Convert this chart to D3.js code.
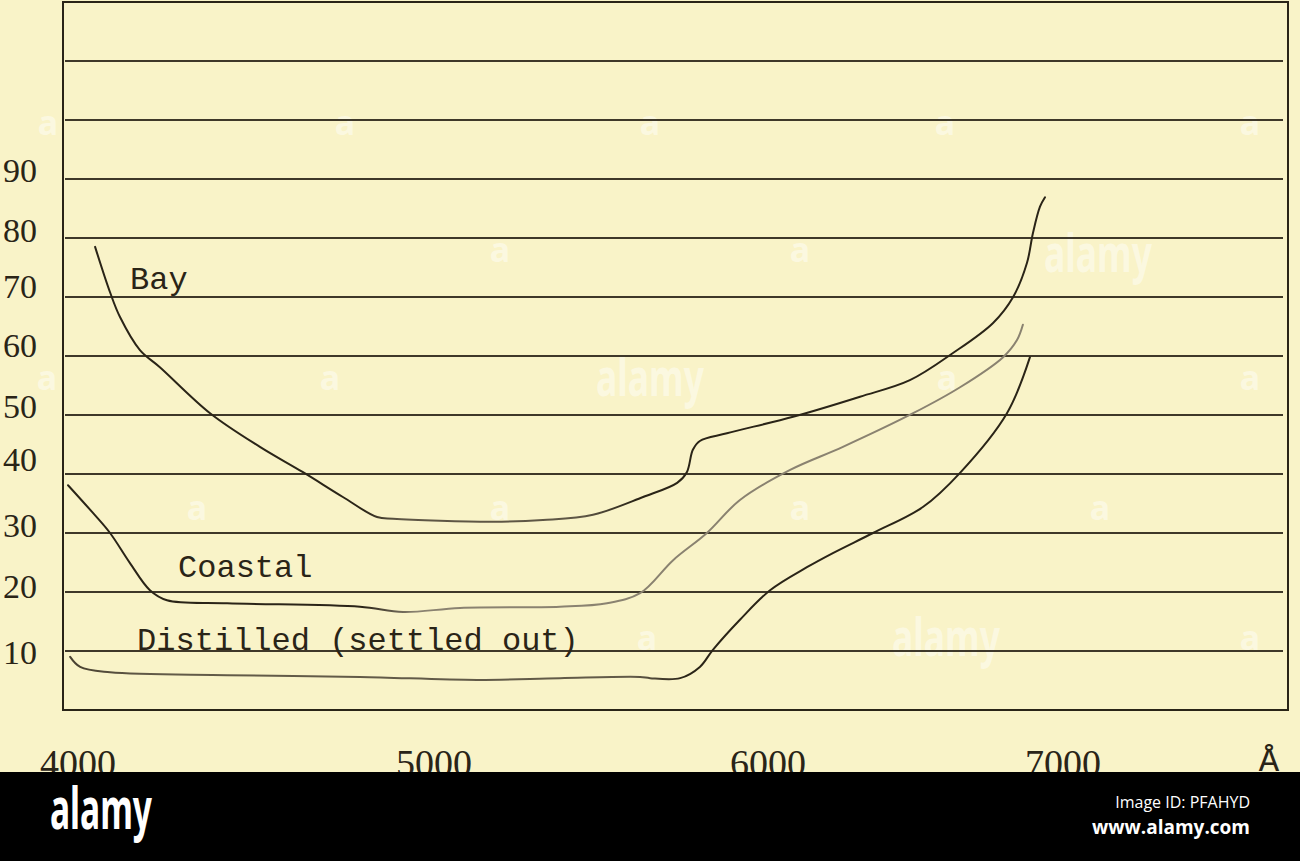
<!DOCTYPE html>
<html>
<head>
<meta charset="utf-8">
<script src="https://cdn.jsdelivr.net/npm/d3@7"></script>
<style>
  html, body { margin: 0; padding: 0; background: #000; }
  svg { display: block; }
</style>
</head>
<body>
<div id="chart"></div>
<script>
// ---------------- DATA ----------------
const wavelengthTicks = [4000, 5000, 6000, 7000];
const gridValues = [10, 20, 30, 40, 50, 60, 70, 80, 90, 100, 110];
const yTickLabels = ["90", "80", "70", "60", "50", "40", "30", "20", "10"];
const yTickLabelAt = [91.4, 81.2, 71.7, 61.7, 51.5, 42.4, 31.2, 21.0, 9.7];
const unitLabel = "Å";

const bayWavelength = [4048, 4090, 4118, 4174, 4230, 4371, 4511, 4632, 4744, 4840, 4885, 5177, 5326, 5476, 5626, 5728, 5757, 5775, 5796, 5877, 6085, 6312, 6481, 6627, 6763, 6831, 6878, 6898, 6922, 6939];
const bayValue      = [78.5, 70.8, 66.6, 61.0, 58.1, 50.3, 44.6, 40.3, 36.1, 32.7, 32.4, 31.9, 32.2, 33.1, 36.1, 38.5, 40.3, 44.1, 45.6, 46.9, 49.7, 53.1, 55.9, 60.5, 65.6, 70.0, 75.8, 80.8, 85.3, 86.9];

const coastalWavelength = [3972, 4042, 4090, 4146, 4202, 4250, 4419, 4792, 4913, 5078, 5377, 5518, 5617, 5716, 5817, 5916, 6075, 6254, 6492, 6651, 6797, 6844, 6864];
const coastalValue      = [38.1, 33.4, 30.0, 24.9, 20.3, 18.6, 18.1, 17.5, 16.6, 17.3, 17.5, 18.1, 19.8, 25.4, 30.0, 35.6, 40.7, 44.6, 50.3, 54.7, 59.8, 62.7, 65.3];

const distilledWavelength = [3978, 4006, 4090, 4419, 4792, 5129, 5377, 5617, 5647, 5737, 5796, 5835, 5916, 6007, 6132, 6220, 6356, 6525, 6651, 6810, 6888];
const distilledValue      = [9.0, 7.3, 6.4, 5.9, 5.6, 5.1, 5.4, 5.6, 5.4, 5.4, 7.3, 10.2, 15.3, 20.3, 24.2, 26.6, 30.0, 34.4, 40.2, 50.3, 59.8];

const seriesNames = ["Bay", "Coastal", "Distilled (settled out)"];
const seriesLabelWavelength = [4146, 4281, 4166];
const seriesLabelValue = [71.4, 22.5, 10.2];

// ---------------- LAYOUT / STYLE ----------------
const W = 1300, H = 861;
const box = { left: 63, right: 1288, top: 2, bottom: 710 };
const bandTop = 772;
const ink = "#2a2417";
const paper = "#f9f3c8";

const svg = d3.select("#chart").append("svg")
  .attr("width", W).attr("height", H)
  .attr("viewBox", `0 0 ${W} ${H}`);

// x axis of the original is slightly non-linear (prism spectrum) -> piecewise scale
const x = d3.scaleLinear()
  .domain(wavelengthTicks)
  .range([78, 434, 768, 1063]);
const y = d3.scaleLinear().domain([0, 120]).range([box.bottom, box.top]);

svg.append("rect").attr("x", 0).attr("y", 0).attr("width", W).attr("height", bandTop).attr("fill", paper);

// gradients for the uneven ink of the scanned curves
const defs = svg.append("defs");
function grad(id, stops) {
  const g = defs.append("linearGradient").attr("id", id)
    .attr("gradientUnits", "userSpaceOnUse")
    .attr("x1", 0).attr("x2", W).attr("y1", 0).attr("y2", 0);
  stops.forEach(s => g.append("stop").attr("offset", x(s[0]) / W).attr("stop-color", s[1]));
}
grad("gBay", [[4800, ink], [4900, "#5e5645"], [5450, "#5e5645"], [5600, ink]]);
grad("gCoastal", [[4800, ink], [4950, "#8a8270"], [7000, "#8a8270"]]);
grad("gDistilled", [[4000, "#4a4232"], [4200, "#625a48"], [5600, "#625a48"], [5750, ink]]);

// faint watermark of the source scan (drawn under the ink)
const wmA = [[48,125],[345,125],[650,125],[945,125],[1250,125],[500,252],[800,252],[47,380],[330,380],[947,380],[1250,380],[197,510],[500,510],[800,510],[1100,510],[647,640],[1250,640]];
const wmAlamy = [[1098,258],[650,382],[946,642]];
const wm = svg.append("g").attr("fill", "#ffffff").attr("fill-opacity", 0.45)
  .attr("font-family", "'Noto Sans', sans-serif").attr("font-weight", 700).attr("text-anchor", "middle");
wm.selectAll("text.a").data(wmA).join("text").attr("class", "a")
  .attr("x", d => d[0]).attr("y", d => d[1] + 10).attr("font-size", 34).text("a");
wm.selectAll("text.al").data(wmAlamy).join("text").attr("class", "al")
  .attr("x", d => d[0]).attr("y", d => d[1] + 14).attr("font-size", 52)
  .attr("textLength", 108).attr("lengthAdjust", "spacingAndGlyphs").text("alamy");

// grid lines
svg.append("g").selectAll("line").data(gridValues).join("line")
  .attr("x1", box.left + 2).attr("x2", box.right - 5)
  .attr("y1", d => y(d)).attr("y2", d => y(d))
  .attr("stroke", ink).attr("stroke-width", 2.2).attr("stroke-opacity", 0.9);

// frame
svg.append("rect")
  .attr("x", box.left).attr("y", box.top)
  .attr("width", box.right - box.left).attr("height", box.bottom - box.top)
  .attr("fill", "none").attr("stroke", ink).attr("stroke-width", 2);

// y tick labels
svg.append("g").selectAll("text").data(yTickLabels).join("text")
  .attr("x", 37).attr("y", (d, i) => y(yTickLabelAt[i]))
  .attr("text-anchor", "end").attr("dominant-baseline", "central")
  .attr("font-family", "'Liberation Serif', serif").attr("font-size", 34)
  .attr("fill", ink).text(d => d);

// x tick labels
svg.append("g").selectAll("text").data(wavelengthTicks).join("text")
  .attr("x", d => x(d)).attr("y", 776)
  .attr("text-anchor", "middle")
  .attr("font-family", "'Liberation Serif', serif").attr("font-size", 38)
  .attr("fill", ink).text(d => d);
svg.append("text").attr("x", 1269).attr("y", 771).attr("text-anchor", "middle")
  .attr("font-family", "'Liberation Mono', monospace").attr("font-size", 34)
  .attr("fill", ink).text(unitLabel);

// curves
const line = d3.line().x(d => x(d[0])).y(d => y(d[1])).curve(d3.curveCatmullRom.alpha(0.5));
const series = [
  { w: bayWavelength, v: bayValue, g: "gBay" },
  { w: coastalWavelength, v: coastalValue, g: "gCoastal" },
  { w: distilledWavelength, v: distilledValue, g: "gDistilled" }
];
svg.append("g").selectAll("path").data(series).join("path")
  .attr("d", s => line(s.w.map((w, i) => [w, s.v[i]])))
  .attr("fill", "none").attr("stroke", s => `url(#${s.g})`)
  .attr("stroke-width", 2).attr("stroke-linecap", "round");

// curve labels
svg.append("g").selectAll("text").data(seriesNames).join("text")
  .attr("x", (d, i) => x(seriesLabelWavelength[i]))
  .attr("y", (d, i) => y(seriesLabelValue[i]))
  .attr("font-family", "'Liberation Mono', monospace").attr("font-size", 32)
  .attr("fill", ink).text(d => d);

// bottom band
svg.append("rect").attr("x", 0).attr("y", bandTop).attr("width", W).attr("height", H - bandTop).attr("fill", "#000");
svg.append("text").attr("x", 50).attr("y", 829)
  .attr("font-family", "'Noto Sans', sans-serif").attr("font-weight", 700).attr("font-size", 58)
  .attr("textLength", 102).attr("lengthAdjust", "spacingAndGlyphs")
  .attr("fill", "#fff").text("alamy");
svg.append("text").attr("x", 1250).attr("y", 808).attr("text-anchor", "end")
  .attr("font-family", "'Open Sans', sans-serif").attr("font-size", 16)
  .attr("fill", "#fff").text("Image ID: PFAHYD");
svg.append("text").attr("x", 1250).attr("y", 834).attr("text-anchor", "end")
  .attr("font-family", "'Open Sans', sans-serif").attr("font-weight", 700).attr("font-size", 19)
  .attr("fill", "#fff").text("www.alamy.com");
</script>
</body>
</html>
